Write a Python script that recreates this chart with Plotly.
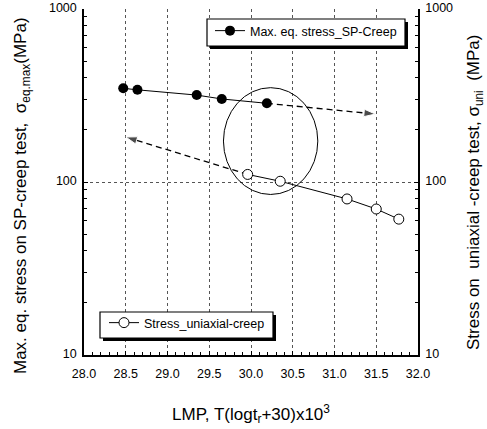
import plotly.graph_objects as go

# Data
sp_lmp = [28.47, 28.64, 29.35, 29.65, 30.19]
sp_stress = [348, 341, 318, 302, 285]
uni_lmp = [29.96, 30.35, 31.15, 31.50, 31.77]
uni_stress = [110.6, 101, 79.8, 69.8, 61]
# extension arrows (start, end)
sp_arrow_lmp = [30.19, 31.49]
sp_arrow_stress = [285, 247]
uni_arrow_lmp = [29.96, 28.50]
uni_arrow_stress = [110.6, 182]
# highlight ellipse bounds
ell_lmp = [29.67, 30.80]
ell_stress = [84.7, 351]

x_ticks = [28.0, 28.5, 29.0, 29.5, 30.0, 30.5, 31.0, 31.5, 32.0]
y_ticks = [10, 100, 1000]
y_minor = [20, 30, 40, 50, 60, 70, 80, 90, 200, 300, 400, 500, 600, 700, 800, 900]

left_title = "Max. eq. stress on SP-creep test,  σ<sub>eq.max</sub>(MPa)"
right_title = "Stress on  uniaxial -creep test, σ<sub>uni</sub>  (MPa)"
x_title = "LMP, T(logt<sub>r</sub>+30)x10<sup>3</sup>"

FONT = "Liberation Sans, Arial, sans-serif"

# plot area in page pixels
L, R, T, B = 84, 418, 9, 355
W, H = 487, 429


def px2paper(x, y):
    return (x - L) / (R - L), (B - y) / (B - T)


fig = go.Figure()

fig.add_trace(go.Scatter(
    x=sp_arrow_lmp, y=sp_arrow_stress, mode="lines+markers",
    line=dict(color="black", width=1.3, dash="6px,4px"),
    marker=dict(symbol="arrow", size=[0, 12], color="black", angleref="previous"),
    showlegend=False, hoverinfo="skip"))
fig.add_trace(go.Scatter(
    x=uni_arrow_lmp, y=uni_arrow_stress, mode="lines+markers",
    line=dict(color="black", width=1.3, dash="6px,4px"),
    marker=dict(symbol="arrow", size=[0, 12], color="black", angleref="previous"),
    showlegend=False, hoverinfo="skip"))

fig.add_trace(go.Scatter(
    x=sp_lmp, y=sp_stress, mode="lines+markers",
    name="Max. eq. stress_SP-Creep",
    line=dict(color="black", width=1),
    marker=dict(symbol="circle", size=10, color="black"),
    legend="legend"))
fig.add_trace(go.Scatter(
    x=uni_lmp, y=uni_stress, mode="lines+markers",
    name="Stress_uniaxial-creep",
    line=dict(color="black", width=1),
    marker=dict(symbol="circle", size=10, color="white", line=dict(color="black", width=1)),
    legend="legend2", yaxis="y2"))

fig.add_shape(type="circle", xref="x", yref="y",
              x0=ell_lmp[0], x1=ell_lmp[1], y0=ell_stress[0], y1=ell_stress[1],
              line=dict(color="black", width=1))

# legend boxes with shadow
for (bx0, by0, bx1, by1) in [(207, 19, 405, 46), (100, 312, 273, 338)]:
    sx0, sy1 = px2paper(bx0 + 3, by0 + 3)
    sx1, sy0 = px2paper(bx1 + 3, by1 + 3)
    fig.add_shape(type="rect", xref="paper", yref="paper", x0=sx0, x1=sx1, y0=sy0, y1=sy1,
                  fillcolor="black", line=dict(width=0), layer="above")
    px0, py1 = px2paper(bx0, by0)
    px1, py0 = px2paper(bx1, by1)
    fig.add_shape(type="rect", xref="paper", yref="paper", x0=px0, x1=px1, y0=py0, y1=py1,
                  fillcolor="white", line=dict(width=1.2, color="black"), layer="above")

# axis titles
ltx, lty = px2paper(22, 196)
rtx, rty = px2paper(475, 192)
fig.add_annotation(text=left_title, xref="paper", yref="paper", x=ltx, y=lty,
                   textangle=-90, showarrow=False, xanchor="center", yanchor="middle",
                   font=dict(family=FONT, size=17, color="black"))
fig.add_annotation(text=right_title, xref="paper", yref="paper", x=rtx, y=rty,
                   textangle=-90, showarrow=False, xanchor="center", yanchor="middle",
                   font=dict(family=FONT, size=17, color="black"))

common_axis = dict(showline=True, linecolor="black", linewidth=1.5, mirror=False,
                   ticks="inside", tickcolor="black", ticklen=4, automargin=False,
                   ticklabeloverflow="allow",
                   tickfont=dict(family=FONT, size=12.5, color="black"))

lg1x, lg1y = px2paper(210, 16)
lg2x, lg2y = px2paper(104, 308)

fig.update_layout(
    width=W, height=H,
    margin=dict(l=L, r=W - R, t=T, b=H - B),
    paper_bgcolor="white", plot_bgcolor="white",
    font=dict(family=FONT, color="black"),
    xaxis=dict(**common_axis, range=[28.0, 32.0], tickvals=x_ticks,
               ticktext=[f"{v:.1f}" for v in x_ticks], ticklabelstandoff=6,
               showgrid=True, gridcolor="#555", griddash="dot", gridwidth=1,
               minor=dict(ticks="inside", ticklen=3, dtick=0.1, tickcolor="black", showgrid=False),
               zeroline=False,
               title=dict(text=x_title, font=dict(family=FONT, size=17), standoff=28)),
    yaxis=dict(**common_axis, type="log", range=[1, 3], tickvals=y_ticks,
               ticktext=["10", "100", "1000"], ticklabelstandoff=3, ticklabelshift=-1,
               showgrid=True, gridcolor="#555", griddash="dot", gridwidth=1,
               minor=dict(ticks="inside", ticklen=3, tickcolor="black", showgrid=False,
                          tickvals=y_minor)),
    yaxis2=dict(**common_axis, type="log", range=[1, 3], tickvals=y_ticks,
                ticktext=["10", "100", "1000"], overlaying="y", side="right", anchor="x",
                showgrid=False, ticklabelstandoff=3, ticklabelshift=-1,
                minor=dict(ticks="inside", ticklen=3, tickcolor="black", tickvals=y_minor)),
    legend=dict(x=lg1x, y=lg1y, xanchor="left", yanchor="top",
                bgcolor="rgba(0,0,0,0)", borderwidth=0,
                font=dict(family=FONT, size=12.5), itemwidth=30),
    legend2=dict(x=lg2x, y=lg2y, xanchor="left", yanchor="top",
                 bgcolor="rgba(0,0,0,0)", borderwidth=0,
                 font=dict(family=FONT, size=12.5), itemwidth=30),
)

fig.write_html("out.html", config={"displayModeBar": False},
               post_script="document.body.style.margin='0px';")
